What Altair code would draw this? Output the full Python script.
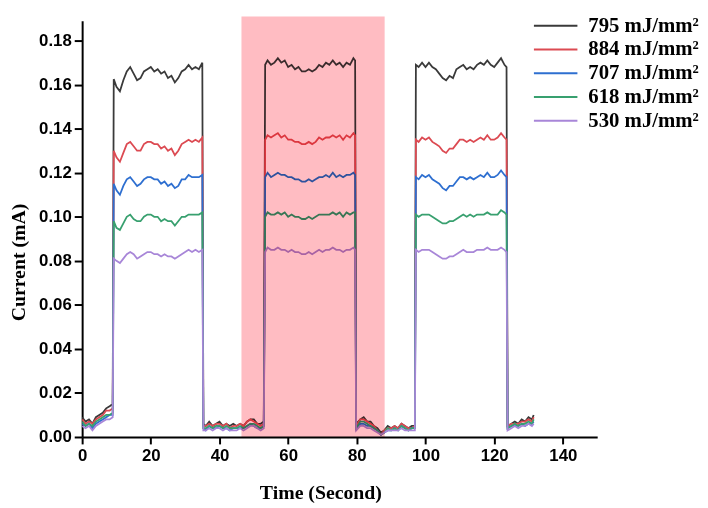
import altair as alt
import pandas as pd

# ---------------- data ----------------
series_names = ["795 mJ/mm²", "884 mJ/mm²", "707 mJ/mm²", "618 mJ/mm²", "530 mJ/mm²"]
series_colors = ["#3a3a3a", "#dc4a52", "#2e6fd0", "#38a06f", "#a886d8"]

time = [
    0, 1, 2, 3, 4, 5, 6, 7, 8, 8.9,
    9.2, 10, 11, 12, 13, 14, 15, 16, 17, 18, 19, 20, 21, 22, 23, 24, 25, 26, 27, 28, 29, 30, 31, 32, 33, 34, 35,
    35.3, 36, 37, 38, 39, 40, 41, 42, 43, 44, 45, 46, 47, 48, 49, 50, 51, 52, 52.9,
    53.3, 54, 55, 56, 57, 58, 59, 60, 61, 62, 63, 64, 65, 66, 67, 68, 69, 70, 71, 72, 73, 74, 75, 76, 77, 78, 79, 79.5,
    79.8, 81, 82, 83, 84, 85, 86, 87, 88, 89, 90, 91, 92, 93, 94, 95, 96, 96.9,
    97.2, 98, 99, 100, 101, 102, 103, 104, 105, 106, 107, 108, 109, 110, 111, 112, 113, 114, 115, 116, 117, 118, 119, 120, 121, 122, 123, 123.6,
    123.9, 125, 126, 127, 128, 129, 130, 131, 131.5,
]

black = [
    0.009, 0.007, 0.008, 0.006, 0.009, 0.010, 0.011, 0.013, 0.014, 0.015,
    0.1625, 0.159, 0.157, 0.162, 0.166, 0.168, 0.165, 0.162, 0.163, 0.166, 0.167, 0.168, 0.166, 0.167, 0.165, 0.166, 0.163, 0.164, 0.161, 0.163, 0.166, 0.167, 0.169, 0.167, 0.168, 0.167, 0.170,
    0.006, 0.005, 0.007, 0.005, 0.006, 0.007, 0.005, 0.006, 0.005, 0.006, 0.005, 0.006, 0.005, 0.007, 0.008, 0.008, 0.006, 0.006, 0.007,
    0.169, 0.171, 0.169, 0.170, 0.172, 0.170, 0.171, 0.168, 0.169, 0.167, 0.168, 0.166, 0.166, 0.167, 0.166, 0.167, 0.169, 0.168, 0.170, 0.169, 0.171, 0.169, 0.170, 0.168, 0.170, 0.169, 0.172, 0.171,
    0.006, 0.008, 0.009, 0.007, 0.007, 0.005, 0.004, 0.002, 0.003, 0.005, 0.004, 0.005, 0.004, 0.006, 0.005, 0.004, 0.005, 0.005,
    0.169, 0.168, 0.170, 0.168, 0.170, 0.168, 0.167, 0.165, 0.163, 0.162, 0.164, 0.163, 0.167, 0.168, 0.169, 0.167, 0.168, 0.167, 0.169, 0.170, 0.169, 0.171, 0.169, 0.168, 0.170, 0.172, 0.169, 0.168,
    0.005, 0.006, 0.007, 0.006, 0.008, 0.007, 0.009, 0.008, 0.010,
]

red = [
    0.008, 0.006, 0.007, 0.006, 0.008, 0.009, 0.010, 0.012, 0.012, 0.013,
    0.130, 0.127, 0.125, 0.129, 0.133, 0.134, 0.132, 0.130, 0.130, 0.133, 0.134, 0.134, 0.133, 0.133, 0.131, 0.132, 0.130, 0.131, 0.128, 0.130, 0.133, 0.134, 0.135, 0.134, 0.135, 0.134, 0.136,
    0.005, 0.005, 0.006, 0.005, 0.006, 0.006, 0.005, 0.006, 0.004, 0.005, 0.005, 0.006, 0.005, 0.007, 0.008, 0.007, 0.006, 0.005, 0.006,
    0.135, 0.137, 0.136, 0.137, 0.138, 0.136, 0.137, 0.135, 0.135, 0.134, 0.134, 0.133, 0.133, 0.134, 0.133, 0.134, 0.136, 0.135, 0.136, 0.136, 0.137, 0.136, 0.137, 0.135, 0.137, 0.136, 0.138, 0.137,
    0.005, 0.008, 0.008, 0.007, 0.006, 0.005, 0.003, 0.001, 0.003, 0.004, 0.004, 0.005, 0.004, 0.006, 0.005, 0.004, 0.004, 0.005,
    0.135, 0.134, 0.136, 0.135, 0.136, 0.134, 0.133, 0.132, 0.130, 0.129, 0.131, 0.131, 0.133, 0.135, 0.135, 0.134, 0.135, 0.134, 0.135, 0.136, 0.135, 0.137, 0.135, 0.135, 0.136, 0.138, 0.136, 0.135,
    0.005, 0.006, 0.006, 0.006, 0.007, 0.007, 0.008, 0.007, 0.009,
]

blue = [
    0.006, 0.005, 0.006, 0.004, 0.006, 0.007, 0.008, 0.009, 0.010, 0.010,
    0.115, 0.112, 0.110, 0.114, 0.117, 0.118, 0.116, 0.114, 0.115, 0.117, 0.118, 0.118, 0.117, 0.117, 0.115, 0.116, 0.114, 0.115, 0.113, 0.114, 0.117, 0.117, 0.119, 0.118, 0.118, 0.118, 0.119,
    0.004, 0.003, 0.005, 0.004, 0.004, 0.005, 0.004, 0.004, 0.003, 0.004, 0.004, 0.004, 0.004, 0.005, 0.006, 0.005, 0.004, 0.004, 0.005,
    0.118, 0.120, 0.118, 0.119, 0.120, 0.119, 0.119, 0.118, 0.118, 0.117, 0.117, 0.116, 0.116, 0.117, 0.116, 0.117, 0.118, 0.118, 0.119, 0.118, 0.120, 0.118, 0.119, 0.118, 0.119, 0.119, 0.120, 0.119,
    0.004, 0.006, 0.006, 0.005, 0.005, 0.004, 0.003, 0.001, 0.002, 0.003, 0.003, 0.004, 0.003, 0.005, 0.004, 0.003, 0.004, 0.004,
    0.118, 0.117, 0.119, 0.118, 0.119, 0.117, 0.116, 0.115, 0.113, 0.112, 0.114, 0.114, 0.116, 0.118, 0.118, 0.117, 0.118, 0.117, 0.118, 0.119, 0.118, 0.120, 0.118, 0.118, 0.119, 0.121, 0.119, 0.118,
    0.004, 0.005, 0.005, 0.005, 0.006, 0.005, 0.006, 0.006, 0.007,
]

green = [
    0.007, 0.005, 0.006, 0.005, 0.007, 0.008, 0.009, 0.010, 0.010, 0.011,
    0.098, 0.095, 0.094, 0.097, 0.100, 0.101, 0.099, 0.098, 0.098, 0.100, 0.101, 0.101, 0.100, 0.100, 0.098, 0.099, 0.098, 0.098, 0.096, 0.098, 0.100, 0.100, 0.101, 0.101, 0.101, 0.101, 0.102,
    0.004, 0.004, 0.005, 0.004, 0.005, 0.005, 0.004, 0.005, 0.004, 0.004, 0.004, 0.005, 0.004, 0.005, 0.006, 0.006, 0.005, 0.004, 0.005,
    0.100, 0.102, 0.101, 0.101, 0.102, 0.101, 0.102, 0.100, 0.101, 0.100, 0.100, 0.099, 0.099, 0.100, 0.099, 0.100, 0.101, 0.101, 0.101, 0.101, 0.102, 0.101, 0.102, 0.100, 0.102, 0.101, 0.102, 0.102,
    0.004, 0.007, 0.007, 0.006, 0.005, 0.004, 0.003, 0.001, 0.002, 0.004, 0.003, 0.004, 0.003, 0.005, 0.004, 0.003, 0.004, 0.004,
    0.101, 0.100, 0.101, 0.101, 0.101, 0.100, 0.099, 0.098, 0.097, 0.097, 0.098, 0.098, 0.099, 0.100, 0.101, 0.100, 0.101, 0.100, 0.101, 0.101, 0.101, 0.102, 0.101, 0.101, 0.101, 0.103, 0.102, 0.101,
    0.004, 0.005, 0.006, 0.005, 0.006, 0.006, 0.007, 0.006, 0.008,
]

purple = [
    0.005, 0.004, 0.005, 0.003, 0.005, 0.006, 0.007, 0.008, 0.008, 0.009,
    0.081, 0.080, 0.079, 0.081, 0.083, 0.084, 0.083, 0.081, 0.082, 0.083, 0.084, 0.084, 0.083, 0.083, 0.082, 0.083, 0.082, 0.082, 0.081, 0.082, 0.083, 0.084, 0.085, 0.084, 0.085, 0.084, 0.085,
    0.003, 0.003, 0.004, 0.003, 0.004, 0.004, 0.003, 0.004, 0.003, 0.003, 0.003, 0.004, 0.003, 0.004, 0.005, 0.005, 0.004, 0.003, 0.004,
    0.084, 0.086, 0.085, 0.085, 0.086, 0.085, 0.085, 0.084, 0.085, 0.084, 0.084, 0.083, 0.083, 0.084, 0.083, 0.084, 0.085, 0.084, 0.085, 0.085, 0.086, 0.085, 0.085, 0.084, 0.085, 0.085, 0.086, 0.085,
    0.003, 0.005, 0.005, 0.004, 0.004, 0.003, 0.002, 0.001, 0.002, 0.003, 0.003, 0.003, 0.003, 0.004, 0.003, 0.003, 0.003, 0.003,
    0.085, 0.084, 0.085, 0.085, 0.085, 0.084, 0.083, 0.082, 0.081, 0.081, 0.082, 0.082, 0.083, 0.084, 0.085, 0.084, 0.084, 0.084, 0.085, 0.085, 0.085, 0.086, 0.085, 0.085, 0.085, 0.086, 0.085, 0.084,
    0.003, 0.004, 0.005, 0.004, 0.005, 0.005, 0.006, 0.005, 0.006,
]

# highlighted (shaded) time window
shade_start = [46.4]
shade_end = [88.1]
shade_top = [0.191]

x_ticks = list(range(0, 151, 10))
y_ticks = [round(i * 0.01, 2) for i in range(0, 19)]

# ---------------- tables ----------------
rows = []
for name, vals in zip(series_names, [black, red, blue, green, purple]):
    for t, v in zip(time, vals):
        rows.append({"time": t, "current": v, "series": name})
df = pd.DataFrame(rows)

shade_df = pd.DataFrame({"x0": shade_start, "x1": shade_end, "y0": [0.0], "y1": shade_top})

x_scale = alt.Scale(domain=[0, 150], nice=False, zero=False)
y_scale = alt.Scale(domain=[0, 0.189], nice=False)

x_axis = alt.Axis(
    values=x_ticks,
    labelExpr="datum.value % 20 === 0 ? datum.label : ''",
    tickSize={"condition": {"test": "datum.value % 20 === 0", "value": 7}, "value": 4},
    title="Time (Second)",
    titleX=241,
    titleY=56,
    titleBaseline="middle",
    labelPadding=4,
    labelFlush=False,
    labelOverlap=False,
)
y_axis = alt.Axis(
    values=y_ticks,
    format=".2f",
    labelExpr="round(datum.value * 100) % 2 === 0 ? datum.label : ''",
    tickSize={"condition": {"test": "round(datum.value * 100) % 2 === 0", "value": 8}, "value": 4},
    title="Current (mA)",
    titleX=-64,
    titleY=244,
    titleBaseline="middle",
    labelPadding=3,
    labelOverlap=False,
    labelFlush=False,
)

lines = alt.Chart(df).mark_line(strokeWidth=1.8, clip=True).encode(
    x=alt.X("time:Q", scale=x_scale, axis=x_axis),
    y=alt.Y("current:Q", scale=y_scale, axis=y_axis),
    color=alt.Color(
        "series:N",
        scale=alt.Scale(domain=series_names, range=series_colors),
        sort=series_names,
        legend=alt.Legend(
            title=None,
            orient="none",
            legendX=467,
            legendY=-7,
            symbolType="M-2,0H2",
            symbolSize=484,
            symbolStrokeWidth=2,
            labelFont="Liberation Serif",
            labelFontWeight="bold",
            labelFontSize=21,
            labelColor="black",
            labelOffset=21,
            rowPadding=2,
        ),
    ),
    detail="series:N",
)

shade = alt.Chart(shade_df).mark_rect(color="#ffbcc2", blend="multiply", clip=False).encode(
    x=alt.X("x0:Q", scale=x_scale),
    x2="x1:Q",
    y=alt.Y("y0:Q", scale=y_scale),
    y2="y1:Q",
)

chart = (
    alt.layer(lines, shade)
    .properties(
        width=521,
        height=421,
        autosize=alt.AutoSizeParams(type="none"),
        padding={"left": 75, "top": 10, "right": 104, "bottom": 80},
        background="white",
    )
    .configure_view(stroke=None)
    .configure_axis(
        grid=False,
        domainColor="black",
        domainWidth=2,
        tickColor="black",
        tickWidth=2,
        labelFont="Liberation Sans",
        labelFontWeight="bold",
        labelFontSize=17,
        labelColor="black",
        titleFont="Liberation Serif",
        titleFontWeight="bold",
        titleFontSize=20,
        titleColor="black",
    )
)

chart.save("out.html", embed_options={"renderer": "svg", "actions": False})
